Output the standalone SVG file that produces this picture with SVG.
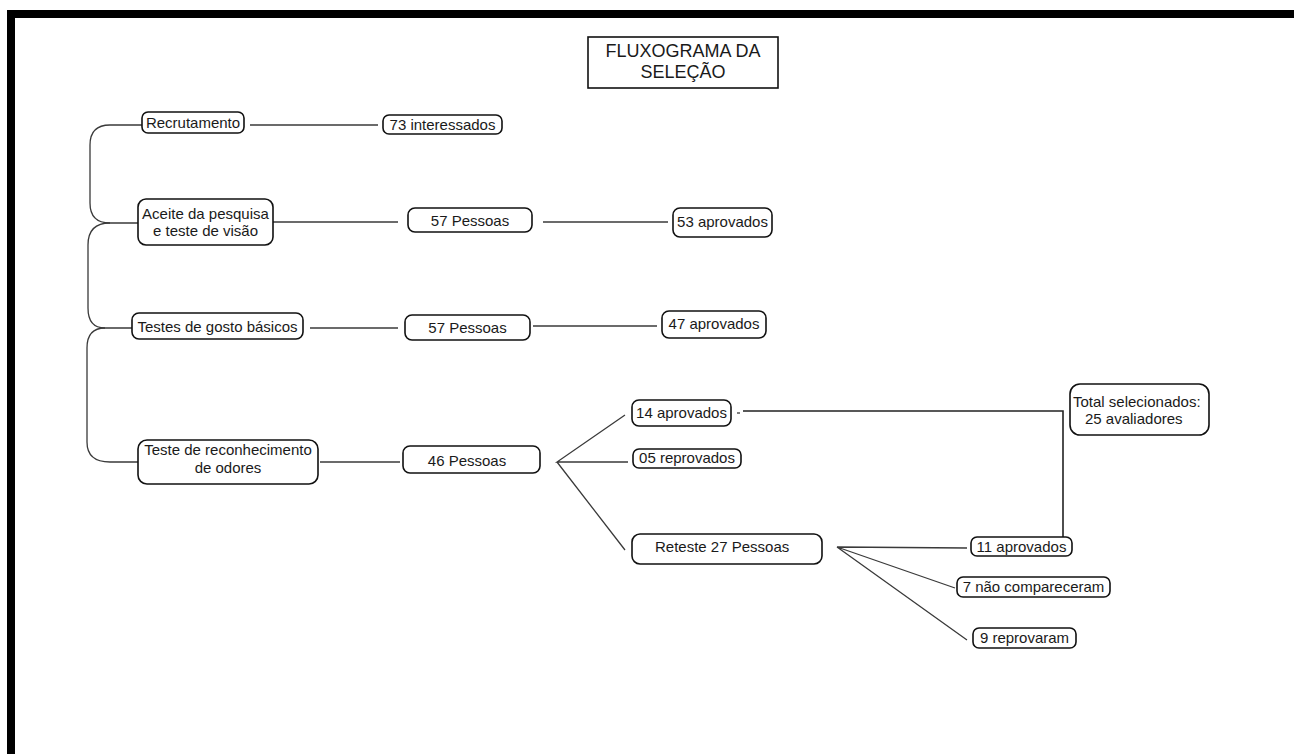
<svg xmlns="http://www.w3.org/2000/svg" width="1294" height="754" viewBox="0 0 1294 754">
<style>
.box{fill:#fff;stroke:#111;stroke-width:1.6}
.t{font-family:"Liberation Sans",Arial,sans-serif;font-size:15px;fill:#1a1a1a;text-anchor:middle}
.ts{font-family:"Liberation Sans",Arial,sans-serif;font-size:15px;fill:#1a1a1a;text-anchor:start}
.title{font-family:"Liberation Sans",Arial,sans-serif;font-size:18px;fill:#1a1a1a;text-anchor:middle}
.c{fill:none;stroke:#3a3a3a;stroke-width:1.3}
</style>
<rect x="0" y="0" width="1294" height="754" fill="#fff"/>
<g id="frame">
<rect x="7" y="10" width="1287" height="8" fill="#000"/>
<rect x="7" y="10" width="8" height="744" fill="#000"/>
</g>
<g id="connectors">
<path class="c" d="M142,125 H110 Q90,125 90,145 V203 Q90,223 110,223 H138"/>
<path class="c" d="M110,223 Q88,223 88,245 V308 Q88,328 105,328 H132"/>
<path class="c" d="M105,328 Q87,328 87,348 V442 Q87,462 110,462 H138"/>
<path class="c" d="M250,125 H378"/>
<path class="c" d="M273,222 H398"/>
<path class="c" d="M543,222 H668"/>
<path class="c" d="M310,328 H398"/>
<path class="c" d="M533,326 H657"/>
<path class="c" d="M320,462 H400"/>
<path class="c" d="M625,415 L557,462 L628,462 M557,462 L625,550"/>
<path class="c" d="M737,413 H740"/>
<path class="c" d="M743,411 H1063 V537" style="stroke:#222;stroke-width:1.6"/>
<path class="c" d="M967,548 L837,547 L955,588 M837,547 L967,640"/>
</g>
<g id="title">
<rect x="588" y="37" width="190" height="51" fill="#fff" stroke="#111" stroke-width="1.6"/>
<text class="title" x="683" y="57">FLUXOGRAMA DA</text>
<text class="title" x="683" y="78">SELEÇÃO</text>
</g>
<g id="recrutamento">
<rect class="box" x="142" y="112" width="102" height="21" rx="6"/>
<text class="t" x="193" y="128">Recrutamento</text>
</g>
<g id="interessados73">
<rect class="box" x="383" y="115" width="119" height="19" rx="6"/>
<text class="t" x="442.5" y="130">73 interessados</text>
</g>
<g id="aceite">
<rect class="box" x="138" y="199" width="135" height="46" rx="8"/>
<text class="t" x="205.5" y="219">Aceite da pesquisa</text>
<text class="t" x="205.5" y="236">e teste de visão</text>
</g>
<g id="pessoas57a">
<rect class="box" x="408" y="208" width="124" height="24" rx="7"/>
<text class="t" x="470" y="226">57 Pessoas</text>
</g>
<g id="aprovados53">
<rect class="box" x="673" y="208" width="99" height="29" rx="7"/>
<text class="t" x="722.5" y="227">53 aprovados</text>
</g>
<g id="gosto">
<rect class="box" x="132" y="313" width="171" height="26" rx="7"/>
<text class="t" x="217.5" y="332">Testes de gosto básicos</text>
</g>
<g id="pessoas57b">
<rect class="box" x="405" y="315" width="125" height="25" rx="7"/>
<text class="t" x="467.5" y="333">57 Pessoas</text>
</g>
<g id="aprovados47">
<rect class="box" x="662" y="311" width="104" height="27" rx="7"/>
<text class="t" x="714" y="329">47 aprovados</text>
</g>
<g id="odores">
<rect class="box" x="138" y="440" width="180" height="44" rx="9"/>
<text class="t" x="228" y="455">Teste de reconhecimento</text>
<text class="t" x="228" y="473">de odores</text>
</g>
<g id="pessoas46">
<rect class="box" x="403" y="446" width="137" height="27" rx="7"/>
<text class="t" x="467" y="466">46 Pessoas</text>
</g>
<g id="aprovados14">
<rect class="box" x="632" y="400" width="99" height="26" rx="7"/>
<text class="t" x="681.5" y="418">14 aprovados</text>
</g>
<g id="reprovados05">
<rect class="box" x="633" y="449" width="108" height="19" rx="6"/>
<text class="t" x="687" y="463">05 reprovados</text>
</g>
<g id="reteste">
<rect class="box" x="632" y="534" width="190" height="30" rx="8"/>
<text class="ts" x="655" y="552">Reteste 27 Pessoas</text>
</g>
<g id="total">
<rect class="box" x="1070" y="384" width="139" height="51" rx="10"/>
<text class="ts" x="1073" y="407">Total selecionados:</text>
<text class="ts" x="1085" y="424">25 avaliadores</text>
</g>
<g id="aprovados11">
<rect class="box" x="971" y="537" width="101" height="19" rx="6"/>
<text class="t" x="1021.5" y="552">11 aprovados</text>
</g>
<g id="naocompareceram7">
<rect class="box" x="957" y="577" width="153" height="20" rx="6"/>
<text class="t" x="1033.5" y="592">7 não compareceram</text>
</g>
<g id="reprovaram9">
<rect class="box" x="973" y="628" width="103" height="20" rx="6"/>
<text class="t" x="1024.5" y="643">9 reprovaram</text>
</g>
</svg>
